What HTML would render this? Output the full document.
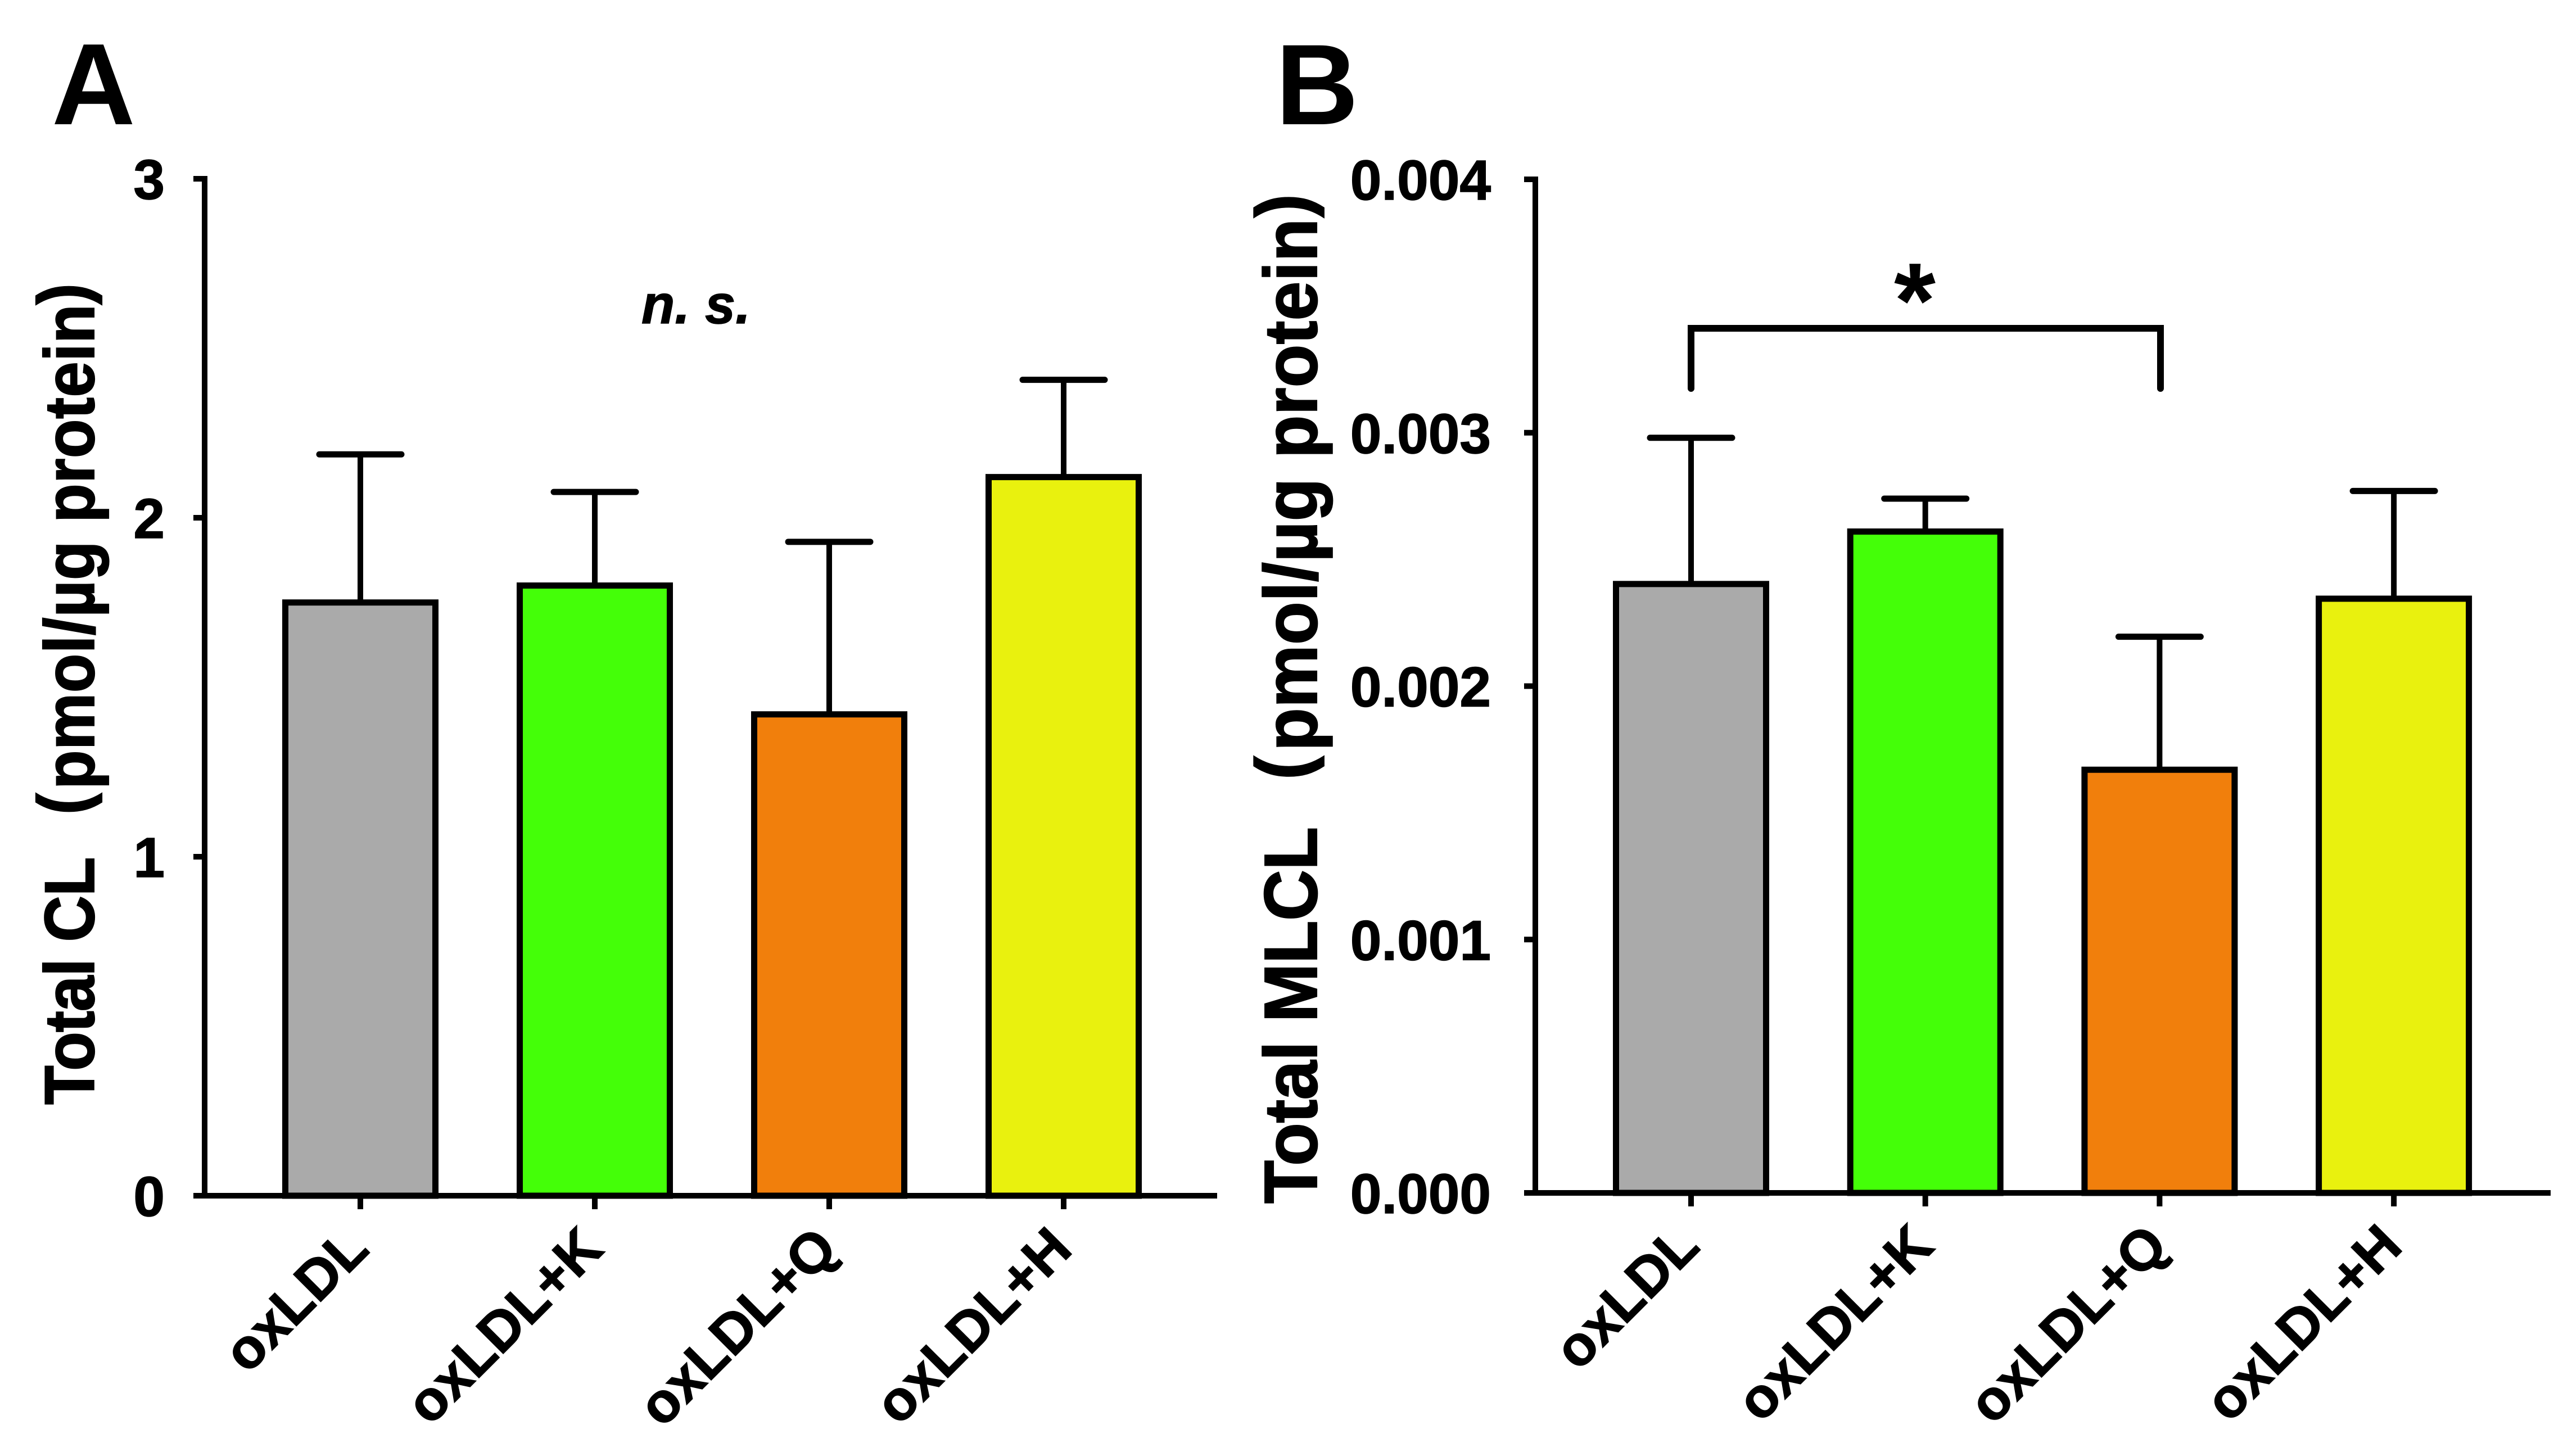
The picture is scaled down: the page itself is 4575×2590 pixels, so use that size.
<!DOCTYPE html>
<html lang="en">
<head>
<meta charset="utf-8">
<title>Total CL and Total MLCL bar charts</title>
<style>
html,body{margin:0;padding:0;background:#fff;}
svg{display:block;}
text{font-family:"Liberation Sans",Arial,sans-serif;font-weight:bold;fill:#000;}
.heavy{stroke:#000;stroke-width:1.5px;}
.heavier{stroke:#000;stroke-width:2px;}
</style>
</head>
<body>
<svg id="figure" xmlns="http://www.w3.org/2000/svg" width="4575" height="2590" viewBox="0 0 4575 2590">
<rect x="0" y="0" width="4575" height="2590" fill="#ffffff"/>
<g id="panel-a"></g>
<g id="panel-b"></g>
<text x="92" y="221" font-size="206">A</text>
<text x="2269" y="221" font-size="204">B</text>
<text x="1141" y="575" font-size="97" font-style="italic" class="heavy">n. s.</text>
<path d="M3008 691 V584 H3843 V691" fill="none" stroke="#000" stroke-width="12" stroke-linecap="round"/>
<text x="3406" y="600" font-size="190" text-anchor="middle">*</text>
</svg>
<script>
const categories = ['oxLDL', 'oxLDL+K', 'oxLDL+Q', 'oxLDL+H'];
const barColors = ['#aaaaaa', '#44ff08', '#f17f0c', '#e9f10e'];
const totalClValues = [1.75, 1.80, 1.42, 2.12];
const totalClErrors = [0.437, 0.276, 0.509, 0.287];
const totalClTicks = ['0', '1', '2', '3'];
const totalMlclValues = [0.002403, 0.00261, 0.00167, 0.002345];
const totalMlclErrors = [0.000577, 0.00013, 0.000525, 0.000425];
const totalMlclTicks = ['0.000', '0.001', '0.002', '0.003', '0.004'];

const NS = 'http://www.w3.org/2000/svg';
function make(parent, tag, attrs, content) {
  const el = document.createElementNS(NS, tag);
  for (const k in attrs) el.setAttribute(k, attrs[k]);
  if (content !== undefined) el.textContent = content;
  parent.appendChild(el);
  return el;
}

function drawPanel(cfg) {
  const root = document.getElementById(cfg.id);
  const yMax = Number(cfg.ticks[cfg.ticks.length - 1]);
  const yScale = v => cfg.yBottom - (v / yMax) * (cfg.yBottom - cfg.yTop);
  const xScale = i => cfg.xFirst + i * cfg.xStep;
  const barStroke = 11, barWidth = 267, capHalf = 73;

  // error bars
  cfg.values.forEach((v, i) => {
    const top = yScale(v + cfg.errors[i]);
    const stem = make(root, 'line', {x1: xScale(i), x2: xScale(i), y1: yScale(v), y2: top, stroke: '#000', 'stroke-width': 10});
    
    
    const cap = make(root, 'line', {x1: xScale(i) - capHalf, x2: xScale(i) + capHalf, y1: top, y2: top, stroke: '#000', 'stroke-width': 11, 'stroke-linecap': 'round'});
    
    
  });

  // bars
  cfg.values.forEach((v, i) => {
    const y = yScale(v);
    const bar = make(root, 'rect', {x: xScale(i) - barWidth / 2, y: y, width: barWidth, height: cfg.yBottom - y, fill: barColors[i], stroke: '#000', 'stroke-width': barStroke});
    
    
  });

  // y axis
  const yAxis = make(root, 'line', {x1: cfg.xAxis, x2: cfg.xAxis, y1: cfg.yTop - 5, y2: cfg.yBottom + 5, stroke: '#000', 'stroke-width': 10});
  
  
  cfg.ticks.forEach(label => {
    const y = yScale(Number(label));
    const tick = make(root, 'line', {x1: cfg.xAxis - 20, x2: cfg.xAxis, y1: y, y2: y, stroke: '#000', 'stroke-width': 10});
    
    
    const txt = make(root, 'text', {x: cfg.yLabelRight, y: y + 36, 'font-size': 100, 'text-anchor': 'end', class: 'heavy'}, label);
    
    
  });

  // x axis
  const xAxis = make(root, 'line', {x1: cfg.xAxis - 20, x2: cfg.xEnd, y1: cfg.yBottom, y2: cfg.yBottom, stroke: '#000', 'stroke-width': 10});
  
  
  categories.forEach((c, i) => {
    const x = xScale(i);
    const tick = make(root, 'line', {x1: x, x2: x, y1: cfg.yBottom, y2: cfg.yBottom + 24, stroke: '#000', 'stroke-width': 10});
    
    
    const lx = x + 19, ly = cfg.yBottom + 99;
    const txt = make(root, 'text', {x: lx, y: ly, 'font-size': 100, 'text-anchor': 'end', class: 'heavy', transform: 'rotate(-45 ' + lx + ' ' + ly + ')'}, c);
    
    
  });

  // y title: the parentheses sit higher than the baseline in the reference
  const title = make(root, 'text', {x: 0, y: 0, 'font-size': cfg.titleSize, class: 'heavier', transform: 'translate(' + cfg.titleX + ' ' + cfg.titleY + ') rotate(-90) scale(1 ' + cfg.titleStretch + ')'});
  
  
  make(title, 'tspan', {x: 0, y: 0, 'letter-spacing': cfg.headSpacing}, cfg.titleHead);
  make(title, 'tspan', {x: cfg.openParenX, y: cfg.parenLift}, '(');
  make(title, 'tspan', {x: cfg.unitX, y: 0, 'letter-spacing': cfg.unitSpacing}, cfg.titleUnit);
  make(title, 'tspan', {x: cfg.closeParenX, y: cfg.parenLift}, ')');
}

drawPanel({
  id: 'panel-a', values: totalClValues, errors: totalClErrors, ticks: totalClTicks,
  yTop: 318, yBottom: 2127, xAxis: 364, xEnd: 2165, xFirst: 641, xStep: 417,
  yLabelRight: 293, titleHead: 'Total CL', titleUnit: 'pmol/\u00b5g protein',
  titleSize: 114, titleStretch: 1.1, titleX: 167, titleY: 1965,
  headSpacing: -1, openParenX: 516, unitX: 561, unitSpacing: 0.4, closeParenX: 1423, parenLift: -11
});
drawPanel({
  id: 'panel-b', values: totalMlclValues, errors: totalMlclErrors, ticks: totalMlclTicks,
  yTop: 319, yBottom: 2122, xAxis: 2731, xEnd: 4537, xFirst: 3008, xStep: 416.7,
  yLabelRight: 2652, titleHead: 'Total MLCL', titleUnit: 'pmol/\u00b5g protein',
  titleSize: 126, titleStretch: 1.06, titleX: 2342, titleY: 2141,
  headSpacing: -0.7, openParenX: 754, unitX: 805, unitSpacing: 0, closeParenX: 1754, parenLift: -14
});
</script>
</body>
</html>
